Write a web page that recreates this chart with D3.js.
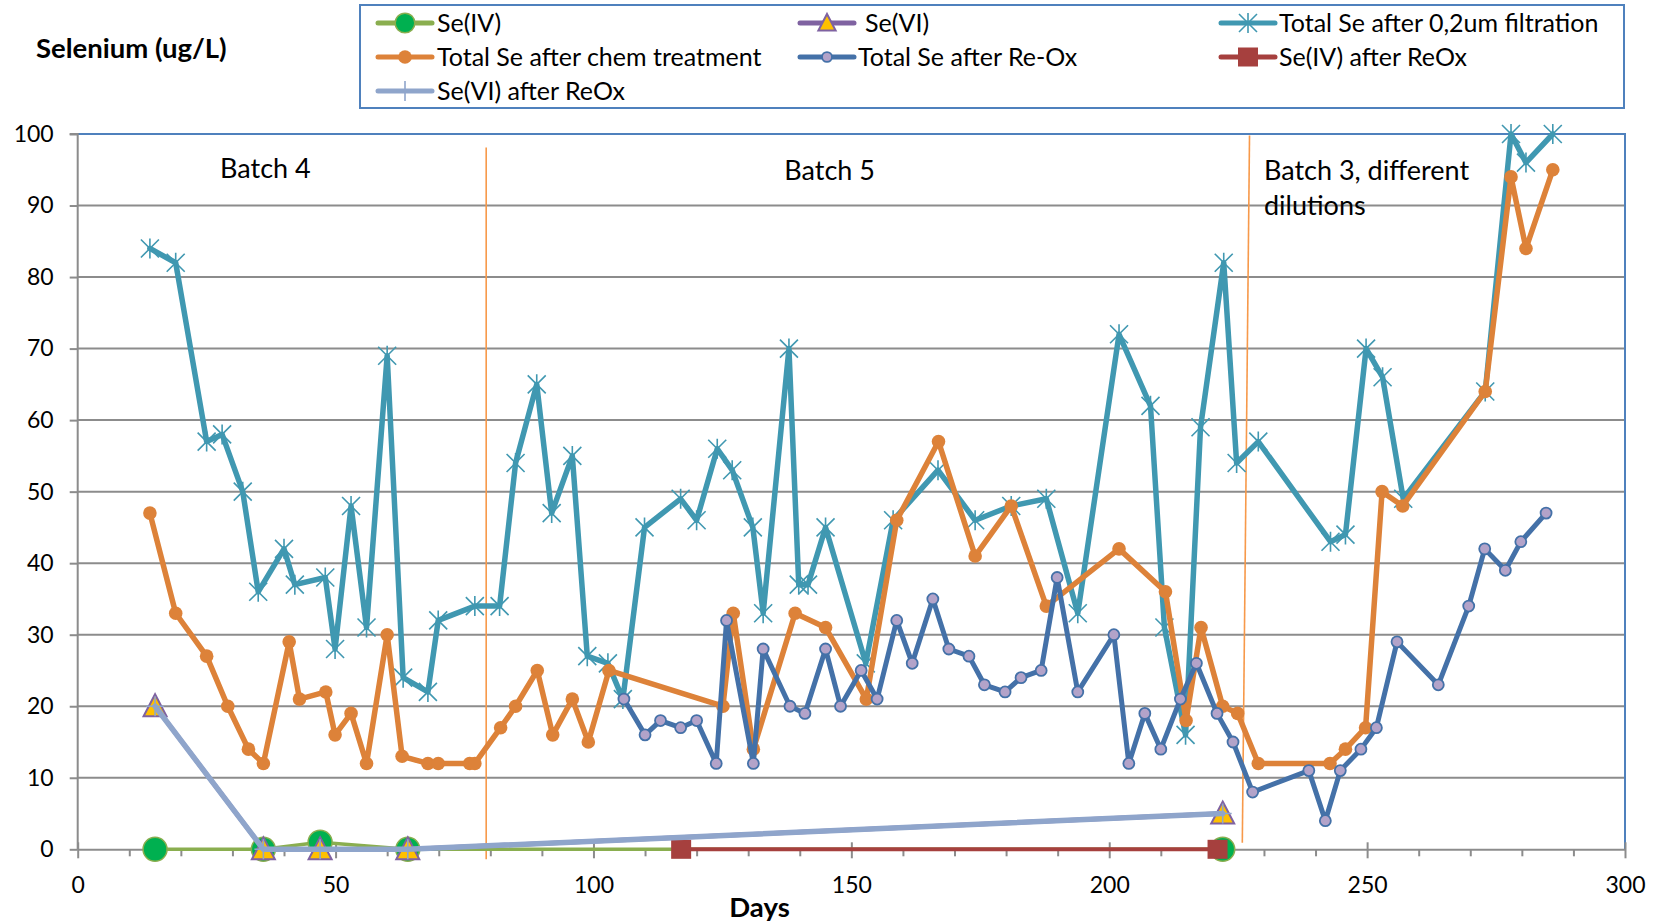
<!DOCTYPE html>
<html>
<head>
<meta charset="utf-8">
<script src="https://cdn.jsdelivr.net/npm/d3@7"></script>
<style>
  html, body { margin: 0; padding: 0; background: #ffffff; }
  svg { display: block; font-family: Lato, "Open Sans", sans-serif; }
</style>
</head>
<body>
<svg id="chart" width="1661" height="924"></svg>
<script>
// ---------------- DATA ----------------
const xTicks = [0, 50, 100, 150, 200, 250, 300];
const yTicks = [0, 10, 20, 30, 40, 50, 60, 70, 80, 90, 100];

const seIVDays = [15, 36, 47, 64, 222];
const seIVVals = [0, 0, 1, 0, 0];

const seVIDays = [15, 36, 47, 64, 222];
const seVIVals = [20, 0, 0, 0, 5];

const filtDays = [14, 19, 25, 28, 32, 35, 40, 42.1, 48, 49.9, 53, 56, 60, 63.1, 67.9, 69.9, 77, 81.8, 84.9, 89, 91.9, 95.9, 98.8, 102.8, 105.7, 109.9, 116.9, 120, 124, 126.9, 130.9, 132.9, 137.9, 139.8, 141.6, 145, 152.8, 158.1, 166.8, 174, 181, 187.8, 193.9, 201.9, 208, 210.7, 214.8, 217.7, 222.2, 224.7, 228.9, 242.9, 245.8, 249.8, 253, 257, 272.9, 277.9, 280.8, 286];
const filtVals = [84, 82, 57, 58, 50, 36, 42, 37, 38, 28, 48, 31, 69, 24, 22, 32, 34, 34, 54, 65, 47, 55, 27, 26, 21, 45, 49, 46, 56, 53, 45, 33, 70, 37, 37, 45, 26, 46, 53, 46, 48, 49, 33, 72, 62, 31, 16, 59, 82, 54, 57, 43, 44, 70, 66, 49, 64, 100, 96, 100];

const chemDays = [14, 19, 25, 29.1, 33.1, 36, 41, 43, 48.1, 49.9, 53, 56, 60, 62.9, 67.9, 69.9, 76, 77, 82, 84.9, 89.1, 92.1, 95.9, 99, 103, 125.1, 127.1, 131, 139.1, 145, 152.9, 158.8, 166.9, 174, 181, 187.8, 201.9, 210.9, 214.9, 217.8, 222, 224.9, 228.9, 242.8, 245.8, 249.7, 252.9, 256.9, 272.9, 277.9, 280.8, 286];
const chemVals = [47, 33, 27, 20, 14, 12, 29, 21, 22, 16, 19, 12, 30, 13, 12, 12, 12, 12, 17, 20, 25, 16, 21, 15, 25, 20, 33, 14, 33, 31, 21, 46, 57, 41, 48, 34, 42, 36, 18, 31, 20, 19, 12, 12, 14, 17, 50, 48, 64, 94, 84, 95];

const reoxDays = [105.9, 110, 113, 116.9, 120, 123.8, 125.8, 131, 132.9, 138.1, 141, 145, 147.9, 151.9, 155, 158.8, 161.8, 165.8, 168.9, 172.8, 175.8, 179.8, 182.9, 186.8, 189.9, 193.9, 200.9, 203.8, 206.9, 210, 213.8, 216.9, 220.9, 224, 227.8, 238.7, 241.9, 244.8, 248.8, 251.8, 255.8, 263.8, 269.7, 272.8, 276.8, 279.8, 284.7];
const reoxVals = [21, 16, 18, 17, 18, 12, 32, 12, 28, 20, 19, 28, 20, 25, 21, 32, 26, 35, 28, 27, 23, 22, 24, 25, 38, 22, 30, 12, 19, 14, 21, 26, 19, 15, 8, 11, 4, 11, 14, 17, 29, 23, 34, 42, 39, 43, 47];

const seIVReoxDays = [117, 221];
const seIVReoxVals = [0, 0];

const seVIReoxDays = [15, 36, 47, 64, 222];
const seVIReoxVals = [20, 0, 0, 0, 5];

// batch separators (day, value) endpoints
const sep1 = [[79.2, 98.1], [79.2, -1.4]];
const sep2 = [[227.2, 99.8], [225.8, 0.9]];

const batchLabels = [
  { day: 27.6, val: 93.9, lines: ["Batch 4"] },
  { day: 137, val: 93.5, lines: ["Batch 5"] },
  { day: 230, val: 93.5, lines: ["Batch 3, different", "dilutions"] }
];

const seriesNames = ["Se(IV)", "Se(VI)", "Total Se after 0,2um filtration",
  "Total Se after chem treatment", "Total Se after Re-Ox", "Se(IV) after ReOx", "Se(VI) after ReOx"];

// ---------------- LAYOUT ----------------
const svg = d3.select("#chart");
const L = 77.7, R = 1625, T = 134, B = 849.3;
const x = d3.scaleLinear().domain([0, 300]).range([L, R]);
const y = d3.scaleLinear().domain([0, 100]).range([B, T]);

const C = {
  olive: "#8AAE4F", green: "#00B050",
  purple: "#7F62A1", yellow: "#FFC000",
  teal: "#4098B1",
  orange: "#DD8239",
  blue: "#4471A8", lav: "#B3A3C9",
  red: "#A6403E",
  lblue: "#8FA5CB",
  grid: "#8C8C8C", frame: "#4F81BD", sep: "#F7994A"
};

// gridlines
svg.append("g").selectAll("line").data(yTicks.filter(v => v > 0 && v < 100)).join("line")
  .attr("x1", L).attr("x2", R).attr("y1", d => y(d)).attr("y2", d => y(d))
  .attr("stroke", C.grid).attr("stroke-width", 2);

// frame: top and right in blue
svg.append("path").attr("d", `M${L},${T} H${R} V${B}`).attr("fill", "none")
  .attr("stroke", C.frame).attr("stroke-width", 2);

// left axis
const yAxis = svg.append("g").attr("transform", `translate(${L},0)`)
  .call(d3.axisLeft(y).tickValues(yTicks).tickSize(8).tickPadding(16).tickFormat(d3.format("d")));
yAxis.select(".domain").attr("stroke", C.grid).attr("stroke-width", 2).attr("d", `M-8,${T}H0V${B}`);
yAxis.selectAll(".tick line").attr("stroke", C.grid).attr("stroke-width", 2);
yAxis.selectAll("text").attr("font-size", 23).attr("fill", "#000").attr("font-family", "Lato");

// bottom axis minor ticks
const minor = d3.range(0, 301, 10).filter(d => d % 50 !== 0);
const xMinor = svg.append("g").attr("transform", `translate(0,${B})`)
  .call(d3.axisBottom(x).tickValues(minor).tickSize(7).tickFormat(""));
xMinor.select(".domain").remove();
xMinor.selectAll(".tick line").attr("stroke", C.grid).attr("stroke-width", 2);

const xAxis = svg.append("g").attr("transform", `translate(0,${B})`)
  .call(d3.axisBottom(x).tickValues(xTicks).tickSize(9).tickSizeOuter(0).tickFormat(d3.format("d")));
xAxis.select(".domain").attr("stroke", C.grid).attr("stroke-width", 2);
xAxis.selectAll(".tick line").attr("stroke", C.grid).attr("stroke-width", 2).attr("y1", -7);
xAxis.selectAll("text").attr("font-size", 23).attr("fill", "#000").attr("font-family", "Lato")
  .attr("y", 36).attr("dy", "0.35em");

// batch separators
const lineGen = d3.line().x(d => x(d[0])).y(d => y(d[1]));
[sep1, sep2].forEach(s => svg.append("path").attr("d", lineGen(s))
  .attr("stroke", C.sep).attr("stroke-width", 1.6).attr("fill", "none"));

// batch labels
batchLabels.forEach(b => {
  const t = svg.append("text").attr("x", x(b.day)).attr("y", y(b.val))
    .attr("font-size", 27).attr("fill", "#000").attr("font-family", "Lato");
  b.lines.forEach((ln, i) => t.append("tspan").attr("x", x(b.day)).attr("dy", i === 0 ? 0 : 35).text(ln));
});

// ---------------- MARKERS ----------------
function mk(g, type, sc) {
  const k = sc || 1;
  switch (type) {
    case "bigcircle":
      g.append("circle").attr("r", 12 * k).attr("fill", C.green).attr("stroke", C.olive).attr("stroke-width", 1.5); break;
    case "tri":
      g.append("path").attr("d", `M0,${-12 * k} L${11.5 * k},${10 * k} L${-11.5 * k},${10 * k} Z`).attr("fill", C.yellow)
        .attr("stroke", C.purple).attr("stroke-width", 2); break;
    case "star":
      g.append("path").attr("d", `M${-9 * k},${-9 * k}L${9 * k},${9 * k}M${-9 * k},${9 * k}L${9 * k},${-9 * k}M0,${-10 * k}V${10 * k}`)
        .attr("stroke", C.teal).attr("stroke-width", 1.6).attr("fill", "none"); break;
    case "dot":
      g.append("circle").attr("r", 6.8 * k).attr("fill", C.orange); break;
    case "lav":
      g.append("circle").attr("r", 5.5 * k).attr("fill", C.lav).attr("stroke", C.blue).attr("stroke-width", 1.8); break;
    case "square":
      g.append("rect").attr("x", -10 * k).attr("y", -9.5 * k).attr("width", 20 * k).attr("height", 19 * k).attr("fill", C.red); break;
    case "plus":
      g.append("path").attr("d", `M${-9 * k},0H${9 * k}M0,${-10 * k}V${10 * k}`).attr("stroke", C.lblue)
        .attr("stroke-width", 1.6).attr("fill", "none"); break;
  }
}

const series = [
  { name: seriesNames[0], days: seIVDays, vals: seIVVals, color: C.olive, w: 3.5, m: "bigcircle", ls: 0.82 },
  { name: seriesNames[1], days: seVIDays, vals: seVIVals, color: C.purple, w: 4.5, m: "tri", ls: 0.75 },
  { name: seriesNames[2], days: filtDays, vals: filtVals, color: C.teal, w: 5.5, m: "star", ls: 1 },
  { name: seriesNames[3], days: chemDays, vals: chemVals, color: C.orange, w: 5.5, m: "dot", ls: 1 },
  { name: seriesNames[4], days: reoxDays, vals: reoxVals, color: C.blue, w: 5, m: "lav", ls: 0.9 },
  { name: seriesNames[5], days: seIVReoxDays, vals: seIVReoxVals, color: C.red, w: 4, m: "square", ls: 1 },
  { name: seriesNames[6], days: seVIReoxDays, vals: seVIReoxVals, color: C.lblue, w: 5.5, m: "plus", ls: 1 }
];

const line = d3.line().x(d => x(d[0])).y(d => y(d[1]));
series.forEach(s => {
  const pts = s.days.map((d, i) => [d, s.vals[i]]);
  const g = svg.append("g");
  g.append("path").attr("d", line(pts)).attr("fill", "none").attr("stroke", s.color)
    .attr("stroke-width", s.w).attr("stroke-linejoin", "round").attr("stroke-linecap", "round");
  pts.forEach(p => mk(g.append("g").attr("transform", `translate(${x(p[0])},${y(p[1])})`), s.m));
});

// ---------------- TITLES ----------------
svg.append("text").attr("x", 36).attr("y", 48).attr("dy", "0.35em")
  .attr("font-size", 27.5).attr("font-weight", "bold").attr("fill", "#000").text("Selenium (ug/L)");
svg.append("text").attr("x", 759.5).attr("y", 907).attr("dy", "0.35em").attr("text-anchor", "middle")
  .attr("font-size", 27.5).attr("font-weight", "bold").attr("fill", "#000").text("Days");

// ---------------- LEGEND ----------------
svg.append("rect").attr("x", 360).attr("y", 5).attr("width", 1264).attr("height", 103)
  .attr("fill", "#fff").attr("stroke", C.frame).attr("stroke-width", 2);
const legPos = [
  { lx: 378, tx: 437, ty: 23 }, { lx: 800, tx: 865, ty: 23 }, { lx: 1221, tx: 1279, ty: 23 },
  { lx: 378, tx: 437, ty: 57 }, { lx: 800, tx: 858, ty: 57 }, { lx: 1221, tx: 1279, ty: 57 },
  { lx: 378, tx: 437, ty: 91 }
];
series.forEach((s, i) => {
  const p = legPos[i];
  const g = svg.append("g");
  g.append("line").attr("x1", p.lx).attr("x2", p.lx + 54).attr("y1", p.ty).attr("y2", p.ty)
    .attr("stroke", s.color).attr("stroke-width", 5).attr("stroke-linecap", "round");
  mk(g.append("g").attr("transform", `translate(${p.lx + 27},${p.ty})`), s.m, s.ls);
  g.append("text").attr("x", p.tx).attr("y", p.ty).attr("dy", "0.35em")
    .attr("font-size", 25).attr("fill", "#000").text(s.name);
});
</script>
</body>
</html>
